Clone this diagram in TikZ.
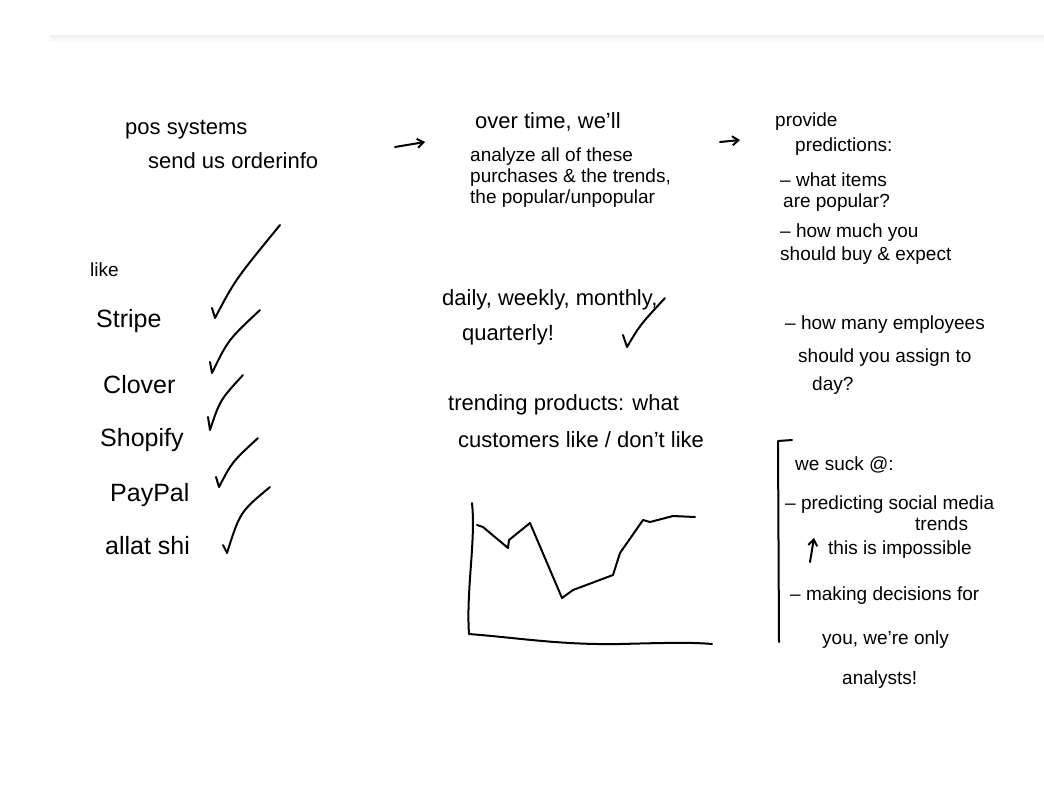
\documentclass[tikz,border=0pt]{standalone}
\usepackage{fontspec}
\setmainfont{Liberation Sans}
\usetikzlibrary{arrows.meta,positioning}

\tikzset{
  hand/.style={anchor=west, inner sep=0pt, font=\fontsize{19}{22}\selectfont},
  bighand/.style={hand, font=\fontsize{22}{26}\selectfont},
  listhand/.style={hand, font=\fontsize{25}{28}\selectfont},
  smallhand/.style={hand, font=\fontsize{19}{22}\selectfont},
  pen/.style={line width=2pt, line cap=round, line join=round},
  penarrow/.style={pen, -{Straight Barb[length=6pt,width=9pt]}}
}

\begin{document}
\begin{tikzpicture}[x=1pt,y=-1pt]
    \useasboundingbox (0,0) rectangle (1044,796);
    % top shadow band
    \fill[black!5] (50,35) rectangle (1044,38);
    \fill[black!2] (50,38) rectangle (1044,42);

    % Left column
    \node[bighand] (pos1) at (125,130) {pos systems};
    \node[bighand] (pos2) at (148,161) {send us orderinfo};
    \node[smallhand] (like) at (90,270) {like};
    \node[listhand] (stripe) at (96,321) {Stripe};
    \node[listhand] (clover) at (103,385) {Clover};
    \node[listhand] (shopify) at (100,440) {Shopify};
    \node[listhand] (paypal) at (110,495) {PayPal};
    \node[listhand] (allat) at (105,546) {allat shi};

    % Checkmarks
    \draw[pen] (212,308) -- (215,318) .. controls (235,280) .. (280,225);
    \draw[pen] (210,362) -- (212,373) .. controls (228,340) .. (260,310);
    \draw[pen] (208,417) -- (210,430) .. controls (220,400) .. (243,375);
    \draw[pen] (216,477) -- (219,487) .. controls (232,462) .. (258,438);
    \draw[pen] (223,545) -- (227,553) .. controls (240,512) .. (270,487);

    % Arrows between the steps
    \coordinate (arrA tail) at (395,147);
    \coordinate (arrA head) at (425,142);
    \draw[penarrow] (arrA tail) -- (arrA head);
    \coordinate (arrB tail) at (720,142);
    \coordinate (arrB head) at (740,140);
    \draw[penarrow] (arrB tail) -- (arrB head);

    % Middle column
    \node[bighand] (over1) at (475,122) {over time, we'll};
    \node[hand] (over2) at (470,157) {analyze all of these};
    \node[hand] (over3) at (470,178) {purchases \& the trends,};
    \node[hand] (over4) at (470,199) {the popular/unpopular};
    \node[bighand] (daily1) at (442,300) {daily, weekly, monthly,};
    \node[bighand] (daily2) at (462,335) {quarterly!};
    \draw[pen] (623,335) -- (627,347) .. controls (640,325) .. (665,298);
    \node[bighand] (trend1) at (448,405) {trending products: what};
    \node[bighand] (trend2) at (458,440) {customers like / don't like};

    % Sketch of a trend chart
    \draw[pen] (472,503) .. controls (476,540) and (466,590) .. (469,634)
        .. controls (520,638) and (560,645) .. (620,644)
        .. controls (660,643) and (690,642) .. (712,644);
    \draw[pen] (477,525) -- (483,527) -- (508,548) -- (509,540) -- (530,523)
        -- (562,598) -- (573,590) -- (613,575) -- (620,553) -- (643,520)
        -- (650,522) -- (673,516) -- (695,517);

    % Right column
    \node[hand] (prov1) at (775,122) {provide};
    \node[hand] (prov2) at (795,147) {predictions:};
    \node[hand] (prov3) at (780,180) {-- what items};
    \node[hand] (prov4) at (783,203) {are popular?};
    \node[hand] (prov5) at (780,233) {-- how much you};
    \node[hand] (prov6) at (780,256) {should buy \& expect};
    \node[hand] (emp1) at (785,325) {-- how many employees};
    \node[hand] (emp2) at (798,358) {should you assign to};
    \node[hand] (emp3) at (812,386) {day?};

    % What we are bad at
    \draw[pen] (792,440) -- (778,441) -- (779,642);
    \node[hand] (suck1) at (795,465) {we suck @:};
    \node[hand] (suck2) at (785,505) {-- predicting social media};
    \node[hand] (suck3) at (915,524) {trends};
    \node[hand] (suck4) at (828,550) {this is impossible};
    \coordinate (imp tail) at (810,562);
    \coordinate (imp head) at (814,538);
    \draw[penarrow] (imp tail) -- (imp head);
    \node[hand] (suck5) at (790,596) {-- making decisions for};
    \node[hand] (suck6) at (822,640) {you, we're only};
    \node[hand] (suck7) at (842,680) {analysts!};
\end{tikzpicture}
\end{document}
